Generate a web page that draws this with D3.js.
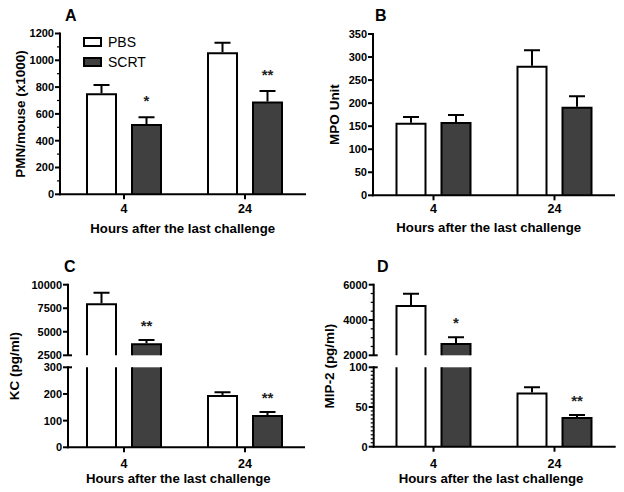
<!DOCTYPE html>
<html>
<head>
<meta charset="utf-8">
<script src="https://cdn.jsdelivr.net/npm/d3@7"></script>
<style>
  body { margin: 0; background: #fff; }
  svg { display: block; font-family: "Liberation Sans", Arial, sans-serif; }
</style>
</head>
<body>
<script>
// data (mean and SEM)
const hours = ["4", "24"];
const groupNames = ["PBS", "SCRT"];

const pmnPBS = [746, 1052], pmnPBSsem = [70, 79];
const pmnSCRT = [517, 686], pmnSCRTsem = [58, 85];
const pmnStars = ["*", "**"];

const mpoPBS = [155, 279], mpoPBSsem = [15, 36];
const mpoSCRT = [157, 190], mpoSCRTsem = [17, 25];
const mpoStars = ["", ""];

const kcPBS = [7920, 192], kcPBSsem = [1230, 14];
const kcSCRT = [3670, 117], kcSCRTsem = [455, 15];
const kcStars = ["**", "**"];

const mipPBS = [4790, 67], mipPBSsem = [700, 8];
const mipSCRT = [2640, 36], mipSCRTsem = [380, 4];
const mipStars = ["*", "**"];

const pmnTicks = [0, 200, 400, 600, 800, 1000, 1200];
const mpoTicks = [0, 50, 100, 150, 200, 250, 300, 350];
const kcTicksLow = [0, 100, 200, 300], kcTicksHigh = [2500, 5000, 7500, 10000];
const mipTicksLow = [0, 50, 100], mipTicksHigh = [2000, 4000, 6000];

const xTitle = "Hours after the last challenge";

const w = 624, h = 492;
const svg = d3.select("body").append("svg").attr("width", w).attr("height", h);

const panels = [
  { letter: "A", lx: 65, ly: 21, axisX: 60, xEnd: 306, colRange: [63.5, 305.5],
    yTitle: "PMN/mouse (x1000)", ytx: 20.5, yty: 114,
    tickBase: 213.3, titleX: 182.7, titleBase: 232.7,
    segs: [{ domain: [0, 1200], range: [194.3, 33.5], ticks: pmnTicks, minor: 100 }],
    means: [pmnPBS, pmnSCRT], sems: [pmnPBSsem, pmnSCRTsem], stars: pmnStars, starGap: 11, legend: true },
  { letter: "B", lx: 375, ly: 21, axisX: 373, xEnd: 615, colRange: [373, 615],
    yTitle: "MPO Unit", ytx: 334.5, yty: 114.5,
    tickBase: 213.3, titleX: 488.7, titleBase: 231.7,
    segs: [{ domain: [0, 350], range: [195.3, 34], ticks: mpoTicks, minor: 0 }],
    means: [mpoPBS, mpoSCRT], sems: [mpoPBSsem, mpoSCRTsem], stars: mpoStars, starGap: 11 },
  { letter: "C", lx: 64, ly: 271.7, axisX: 68, xEnd: 305, colRange: [63.5, 305.5],
    yTitle: "KC (pg/ml)", ytx: 14.5, yty: 366,
    tickBase: 467.7, titleX: 178.3, titleBase: 482.7,
    segs: [{ domain: [0, 300], range: [447.3, 367.3], ticks: kcTicksLow, minor: 0 },
           { domain: [2500, 10000], range: [355.3, 284.7], ticks: kcTicksHigh, minor: 0 }],
    means: [kcPBS, kcSCRT], sems: [kcPBSsem, kcSCRTsem], stars: kcStars, starGap: 9 },
  { letter: "D", lx: 377, ly: 271.7, axisX: 373.7, xEnd: 615.7, colRange: [373, 615],
    yTitle: "MIP-2 (pg/ml)", ytx: 329.5, yty: 366,
    tickBase: 467.7, titleX: 491, titleBase: 483,
    segs: [{ domain: [0, 100], range: [446.7, 367.3], ticks: mipTicksLow, minor: 5 },
           { domain: [2000, 6000], range: [355.3, 284.7], ticks: mipTicksHigh, minor: 500 }],
    means: [mipPBS, mipSCRT], sems: [mipPBSsem, mipSCRTsem], stars: mipStars, starGap: 9 }
];

const fills = { PBS: "#ffffff", SCRT: "#404040" };
const barW = 29;

panels.forEach(function (p) {
  const g = svg.append("g");
  const x = d3.scalePoint().domain(hours).range(p.colRange).padding(0.5);
  const sub = d3.scaleBand().domain(groupNames).range([-45, 45]);
  p.segs.forEach(function (s) {
    s.y = d3.scaleLinear().domain(s.domain).range(s.range);
  });
  const y0 = p.segs[0].y(0);
  const segOf = function (v) {
    return p.segs.find(function (s) { return v >= s.domain[0] && v <= s.domain[1]; }) || p.segs[p.segs.length - 1];
  };

  // panel letter
  g.append("text").attr("x", p.lx).attr("y", p.ly).text(p.letter)
    .style("font-size", "16px").style("font-weight", "bold");

  // bars
  groupNames.forEach(function (name, si) {
    hours.forEach(function (hr, hi) {
      const v = p.means[si][hi];
      const cx = x(hr) + sub(name) + sub.bandwidth() / 2;
      const xl = cx - barW / 2, xr = cx + barW / 2;
      p.segs.forEach(function (s, k) {
        if (v <= s.domain[0] && k > 0) return;
        const yb = s.y(s.domain[0]);
        const topIn = v <= s.domain[1];
        const yt = s.y(Math.min(v, s.domain[1]));
        g.append("rect").attr("x", xl).attr("y", yt).attr("width", barW).attr("height", yb - yt)
          .attr("fill", fills[name]);
        const path = topIn
          ? `M${xl},${yb}V${yt}H${xr}V${yb}`
          : `M${xl},${yb}V${yt}M${xr},${yb}V${yt}`;
        g.append("path").attr("d", path).attr("fill", "none")
          .attr("stroke", "#000").attr("stroke-width", 2);
      });
      // error bar
      const s = segOf(v);
      const ym = s.y(v), ye = s.y(v + p.sems[si][hi]);
      g.append("path").attr("d", `M${cx},${ym - 1}V${ye}M${cx - 8},${ye}H${cx + 8}`)
        .attr("fill", "none").attr("stroke", "#000").attr("stroke-width", 2);
      // significance stars
      if (name === "SCRT" && p.stars[hi]) {
        g.append("text").attr("x", cx).attr("y", ye - p.starGap)
          .attr("text-anchor", "middle").text(p.stars[hi])
          .style("font-size", "15px").style("font-weight", "bold").attr("fill", "#222");
      }
    });
  });

  // y axis, one piece per segment
  p.segs.forEach(function (s, k) {
    const yb = s.range[0], yt = s.range[1];
    g.append("line").attr("x1", p.axisX).attr("x2", p.axisX).attr("y1", yb + (k === 0 ? 1 : 0)).attr("y2", yt - 1)
      .attr("stroke", "#000").attr("stroke-width", 2);
    if (s.minor) {
      d3.range(s.domain[0], s.domain[1] + 1e-9, s.minor).forEach(function (t) {
        if (s.ticks.indexOf(t) >= 0) return;
        g.append("line").attr("x1", p.axisX - 3).attr("x2", p.axisX).attr("y1", s.y(t)).attr("y2", s.y(t))
          .attr("stroke", "#000").attr("stroke-width", 1.2);
      });
    }
    s.ticks.forEach(function (t, i) {
      const yy = s.y(t);
      const brk = p.segs.length > 1 && ((k === 0 && i === s.ticks.length - 1) || (k === 1 && i === 0));
      g.append("line").attr("x1", p.axisX - 5).attr("x2", p.axisX + (brk ? 4 : 0)).attr("y1", yy).attr("y2", yy)
        .attr("stroke", "#000").attr("stroke-width", 2);
      g.append("text").attr("x", p.axisX - 6).attr("y", yy).attr("dy", "0.36em")
        .attr("text-anchor", "end").text(t)
        .style("font-size", "11px").style("font-weight", "bold");
    });
  });

  // x axis
  g.append("line").attr("x1", p.axisX - 1).attr("x2", p.xEnd).attr("y1", y0).attr("y2", y0)
    .attr("stroke", "#000").attr("stroke-width", 2);
  hours.forEach(function (hr) {
    g.append("line").attr("x1", x(hr)).attr("x2", x(hr)).attr("y1", y0).attr("y2", y0 + 5)
      .attr("stroke", "#000").attr("stroke-width", 2);
    g.append("text").attr("x", x(hr)).attr("y", p.tickBase).attr("text-anchor", "middle").text(hr)
      .style("font-size", "12.5px").style("font-weight", "bold");
  });

  // axis titles
  g.append("text").attr("x", p.titleX).attr("y", p.titleBase).attr("text-anchor", "middle").text(xTitle)
    .style("font-size", "13.2px").style("font-weight", "bold");
  g.append("text").attr("transform", `translate(${p.ytx},${p.yty}) rotate(-90)`)
    .attr("dy", "0.36em").attr("text-anchor", "middle").text(p.yTitle)
    .style("font-size", "13.5px").style("font-weight", "bold");

  // legend
  if (p.legend) {
    groupNames.forEach(function (name, i) {
      const ly = 38 + i * 20;
      g.append("rect").attr("x", 84).attr("y", ly).attr("width", 17).attr("height", 8)
        .attr("fill", fills[name]).attr("stroke", "#000").attr("stroke-width", 2);
      g.append("text").attr("x", 108).attr("y", ly + 9).text(name).style("font-size", "14px");
    });
  }
});
</script>
</body>
</html>
